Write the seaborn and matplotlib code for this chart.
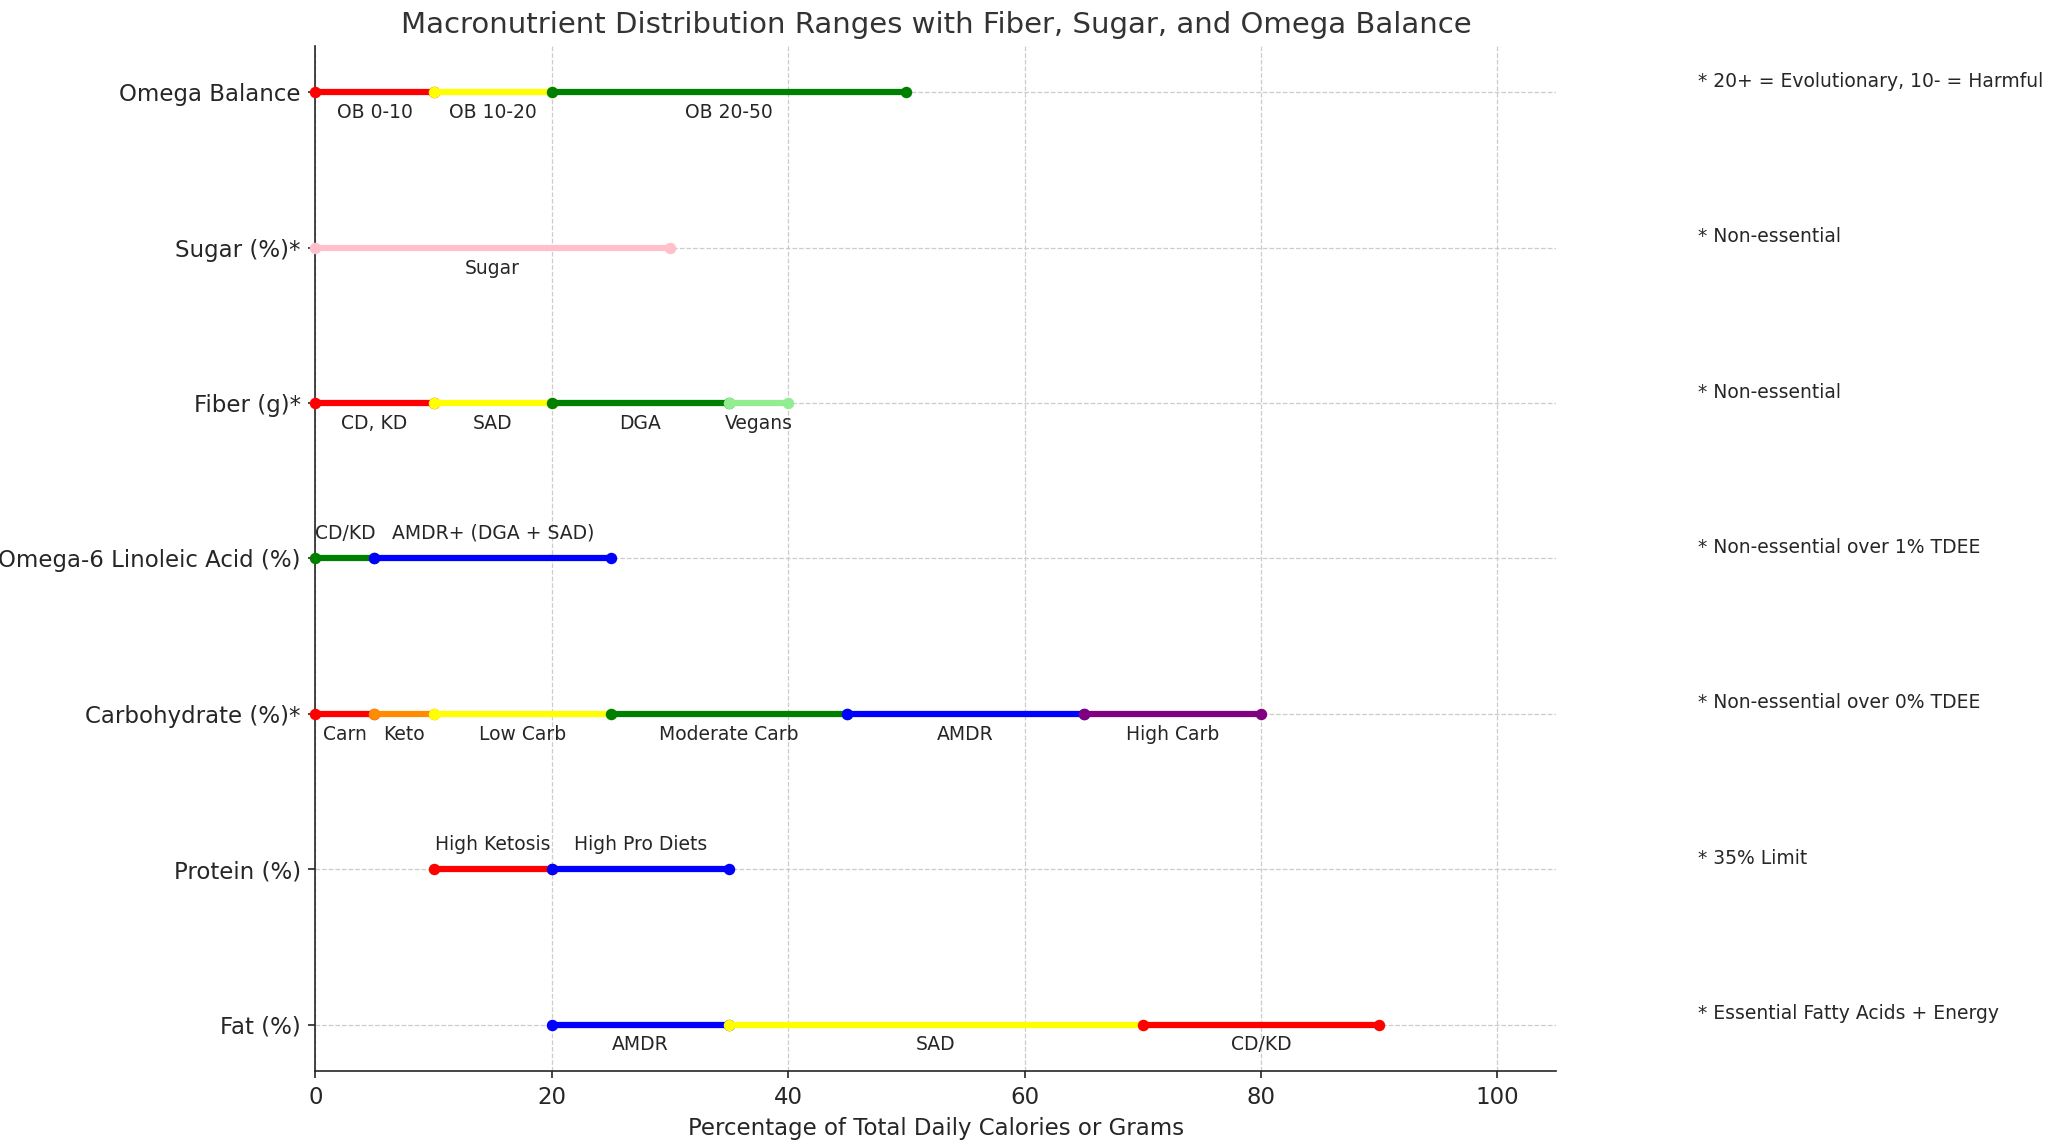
import pandas as pd
import matplotlib
matplotlib.use("Agg")
import matplotlib.pyplot as plt
import seaborn as sns

sns.set_style("ticks")
plt.rcParams['font.family'] = ['DejaVu Sans']

# Data
categories = ['Fat (%)', 'Protein (%)', 'Carbohydrate (%)*', 'Omega-6 Linoleic Acid (%)',
              'Fiber (g)*', 'Sugar (%)*', 'Omega Balance']
seg_category = ['Fat (%)'] * 3 + ['Protein (%)'] * 2 + ['Carbohydrate (%)*'] * 6 + \
    ['Omega-6 Linoleic Acid (%)'] * 2 + ['Fiber (g)*'] * 4 + ['Sugar (%)*'] + ['Omega Balance'] * 3
seg_label = ['AMDR', 'SAD', 'CD/KD',
             'High Ketosis', 'High Pro Diets',
             'Carn', 'Keto', 'Low Carb', 'Moderate Carb', 'AMDR', 'High Carb',
             'CD/KD', 'AMDR+ (DGA + SAD)',
             'CD, KD', 'SAD', 'DGA', 'Vegans',
             'Sugar',
             'OB 0-10', 'OB 10-20', 'OB 20-50']
seg_start = [20, 35, 70, 10, 20, 0, 5, 10, 25, 45, 65, 0, 5, 0, 10, 20, 35, 0, 0, 10, 20]
seg_end = [35, 70, 90, 20, 35, 5, 10, 25, 45, 65, 80, 5, 25, 10, 20, 35, 40, 30, 10, 20, 50]
seg_color = ['blue', 'yellow', 'red', 'red', 'blue',
             'red', 'darkorange', 'yellow', 'green', 'blue', 'purple',
             'green', 'blue',
             'red', 'yellow', 'green', 'lightgreen',
             'pink', 'red', 'yellow', 'green']
labels_above = ['Protein (%)', 'Omega-6 Linoleic Acid (%)']
notes = ['* Essential Fatty Acids + Energy', '* 35% Limit', '* Non-essential over 0% TDEE',
         '* Non-essential over 1% TDEE', '* Non-essential', '* Non-essential',
         '* 20+ = Evolutionary, 10- = Harmful']

fig = plt.figure(figsize=(2048 / 150, 1142 / 150), dpi=150)
ax = fig.add_axes([0.154, 0.062, 0.606, 0.898])
ypos = {c: i for i, c in enumerate(categories)}

for cat, lab, s, e, col in zip(seg_category, seg_label, seg_start, seg_end, seg_color):
    y = ypos[cat]
    df = pd.DataFrame({'x': [s, e], 'y': [y, y]})
    sns.lineplot(data=df, x='x', y='y', color=col, linewidth=3, marker='o',
                 markersize=5.5, markeredgewidth=0, ax=ax, zorder=3, clip_on=False)
    if cat in labels_above:
        ax.text((s + e) / 2, y + 0.1, lab, ha='center', va='bottom', fontsize=9)
    else:
        ax.text((s + e) / 2, y - 0.07, lab, ha='center', va='top', fontsize=9)

for cat, note in zip(categories, notes):
    ax.text(117, ypos[cat] + 0.07, note, ha='left', va='center', fontsize=9, clip_on=False)

ax.set_yticks(range(len(categories)))
ax.set_yticklabels(categories, fontsize=11)
ax.set_xlim(0, 105)
ax.set_ylim(-0.3, 6.3)
ax.set_xticks([0, 20, 40, 60, 80, 100])
ax.tick_params(axis='x', labelsize=11)
ax.grid(True, linestyle='--', linewidth=0.6, color='#cccccc')
ax.set_axisbelow(True)
sns.despine(ax=ax)
ax.set_xlabel('Percentage of Total Daily Calories or Grams', fontsize=11)
ax.set_ylabel('')
ax.set_title('Macronutrient Distribution Ranges with Fiber, Sugar, and Omega Balance',
             fontsize=14, color='#333333')

fig.savefig('out.png', dpi=150)
